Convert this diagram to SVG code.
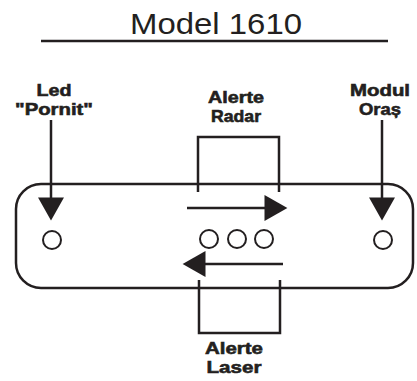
<svg xmlns="http://www.w3.org/2000/svg" width="417" height="381" viewBox="0 0 417 381">
<style>
.ln{fill:none;stroke:#231f20;stroke-width:2.5}
.led{fill:#fff;stroke:#231f20;stroke-width:2}
.lbl{font-family:"Liberation Sans",Arial,sans-serif;font-weight:bold;font-size:17px;fill:#231f20;stroke:#231f20;stroke-width:0.6;text-anchor:middle}
.ttl{font-family:"Liberation Sans",Arial,sans-serif;font-size:30px;fill:#231f20;text-anchor:middle}
</style>
<defs>
<marker id="ah" markerUnits="userSpaceOnUse" markerWidth="26" markerHeight="26" viewBox="0 0 22 25" refX="12" refY="12.5" orient="auto">
<path d="M0,0 L22,12.5 L0,25 z" fill="#231f20"/>
</marker>
</defs>
<rect width="417" height="381" fill="#fff"/>
<g id="title">
<text class="ttl" x="216" y="34" textLength="172" lengthAdjust="spacingAndGlyphs">Model 1610</text>
<line class="ln" x1="41" y1="41" x2="388" y2="41"/>
</g>
<g id="device">
<rect class="ln" x="16" y="184" width="397" height="104" rx="25" ry="25"/>
</g>
<g id="led-pornit">
<text class="lbl" x="54" y="96" textLength="35" lengthAdjust="spacingAndGlyphs">Led</text>
<text class="lbl" x="54" y="115" textLength="78" lengthAdjust="spacingAndGlyphs">"Pornit"</text>
<circle class="led" cx="52" cy="240" r="9"/>
</g>
<g id="modul-oras">
<text class="lbl" x="380" y="96" textLength="60" lengthAdjust="spacingAndGlyphs">Modul</text>
<text class="lbl" x="380" y="115" textLength="42" lengthAdjust="spacingAndGlyphs">Oraș</text>
<circle class="led" cx="383" cy="240" r="9"/>
</g>
<g id="indicatori">
<circle class="led" cx="209" cy="239" r="9"/>
<circle class="led" cx="237" cy="239" r="9"/>
<circle class="led" cx="264" cy="239" r="9"/>
</g>
<g id="alerte-radar">
<text class="lbl" x="236" y="103" textLength="56" lengthAdjust="spacingAndGlyphs">Alerte</text>
<text class="lbl" x="236" y="122" textLength="50" lengthAdjust="spacingAndGlyphs">Radar</text>
<path class="ln" d="M198,192 V137 H279 V192"/>
</g>
<g id="alerte-laser">
<path class="ln" d="M199,280 V333 H280 V280"/>
<text class="lbl" x="234" y="354" textLength="58" lengthAdjust="spacingAndGlyphs">Alerte</text>
<text class="lbl" x="234" y="373" textLength="55" lengthAdjust="spacingAndGlyphs">Laser</text>
</g>
<g id="connectors">
<line class="ln" x1="51" y1="120" x2="51" y2="210" marker-end="url(#ah)"/>
<line class="ln" x1="382" y1="120" x2="382" y2="210" marker-end="url(#ah)"/>
<line class="ln" x1="187" y1="208" x2="277" y2="208" marker-end="url(#ah)"/>
<line class="ln" x1="283" y1="264" x2="193" y2="264" marker-end="url(#ah)"/>
</g>
</svg>
